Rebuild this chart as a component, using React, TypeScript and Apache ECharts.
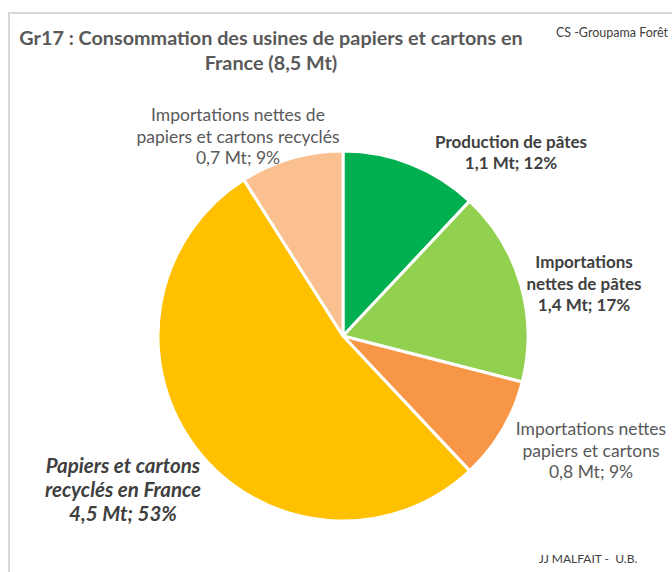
import React, { useEffect, useRef } from "react";
import * as echarts from "echarts";

const categories = [
  "Production de pâtes",
  "Importations nettes de pâtes",
  "Importations nettes papiers et cartons",
  "Papiers et cartons recyclés en France",
  "Importations nettes de papiers et cartons recyclés",
];
const tonnages = ["1,1", "1,4", "0,8", "4,5", "0,7"];
const percents = [12, 17, 9, 53, 9];
const labelLines = [
  ["Production de pâtes"],
  ["Importations", "nettes de pâtes"],
  ["Importations nettes", "papiers et cartons"],
  ["Papiers et cartons", "recyclés en France"],
  ["Importations nettes de", "papiers et cartons recyclés"],
];
const colors = ["#00B050", "#92D050", "#F79646", "#FFC000", "#FAC090"];
const labelStyles = ["bold", "bold", "normal", "bolditalic", "normal"];
const labelPos = [
  [511, 152],
  [584, 283],
  [591, 450],
  [123, 489],
  [238, 136],
];

export default function App() {
  const ref = useRef<HTMLDivElement>(null);
  useEffect(() => {
    if (!ref.current) return;
    const chart = echarts.init(ref.current, null, { renderer: "svg" });
    const font = "Lato, 'Open Sans', sans-serif";
    chart.setOption({
      animation: false,
      backgroundColor: "#ffffff",
      graphic: [
        {
          type: "rect",
          shape: { x: 9, y: 13, width: 700, height: 600 },
          style: { fill: "none", stroke: "#d9d9d9", lineWidth: 2 },
          silent: true,
        },
        {
          type: "text",
          x: 271,
          y: 49,
          style: {
            text: "Gr17 : Consommation des usines de papiers et cartons en\nFrance (8,5 Mt)",
            font: `bold 19.8px ${font}`,
            fill: "#595959",
            align: "center",
            verticalAlign: "middle",
            lineHeight: 25,
          },
        },
        {
          type: "text",
          x: 612,
          y: 32,
          style: {
            text: "CS -Groupama Forêt",
            font: `12.5px ${font}`,
            fill: "#404040",
            align: "center",
            verticalAlign: "middle",
          },
        },
        {
          type: "text",
          x: 588,
          y: 558,
          style: {
            text: "JJ MALFAIT -  U.B.",
            font: `12px ${font}`,
            fill: "#404040",
            align: "center",
            verticalAlign: "middle",
          },
        },
      ],
      series: [
        {
          type: "pie",
          center: [343, 336],
          radius: 185,
          startAngle: 90,
          clockwise: true,
          itemStyle: { borderColor: "#ffffff", borderWidth: 3 },
          labelLine: { show: false },
          emphasis: { disabled: true },
          label: {
            show: true,
            position: "outside",
            overflow: "none",
            color: "#595959",
            fontFamily: font,
            fontSize: 17.5,
            lineHeight: 21.5,
            align: "center",
            formatter: (p: any) =>
              [...labelLines[p.dataIndex], `${tonnages[p.dataIndex]} Mt; ${percents[p.dataIndex]}%`].join("\n"),
          },
          labelLayout: (p: any) => ({
            x: labelPos[p.dataIndex][0],
            y: labelPos[p.dataIndex][1],
            align: "center",
            verticalAlign: "middle",
          }),
          data: categories.map((name, i) => {
            const st = labelStyles[i];
            const bold = st.startsWith("bold");
            const italic = st.endsWith("italic");
            return {
              name,
              value: percents[i],
              itemStyle: { color: colors[i] },
              label: {
                overflow: "none",
                fontWeight: bold ? "bold" : "normal",
                fontStyle: italic ? "italic" : "normal",
                color: bold ? "#404040" : "#595959",
                fontSize: italic ? 20.5 : bold ? 17 : 17.5,
                lineHeight: italic ? 24 : 21.5,
              },
            };
          }),
        },
      ],
    });
    return () => chart.dispose();
  }, []);
  return (
    <div
      ref={ref}
      style={{ position: "fixed", left: 0, top: 0, width: 672, height: 572 }}
    />
  );
}
